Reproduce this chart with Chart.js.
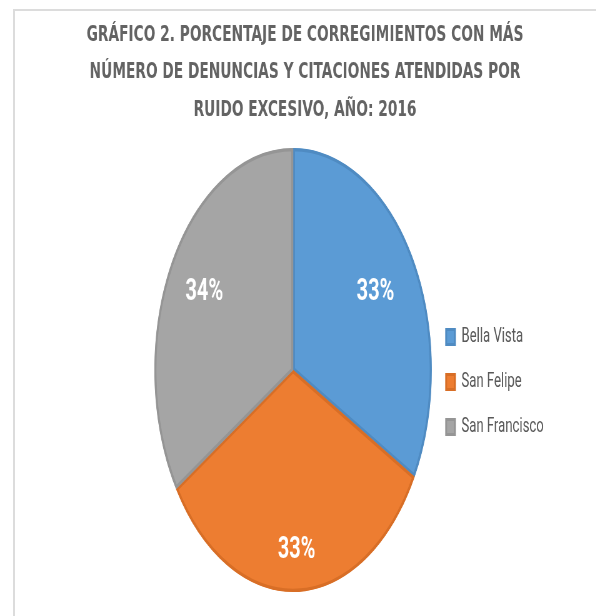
<!DOCTYPE html>
<html><head><meta charset="utf-8">
<script src="https://cdn.jsdelivr.net/npm/chart.js@4.4.1/dist/chart.umd.min.js"></script>
<style>
html,body{margin:0;padding:0;background:#fff;overflow:hidden;width:596px;height:616px;}
#frame{position:absolute;left:13px;top:9px;width:600px;height:620px;border-left:2px solid #dcdcdc;border-top:2px solid #dcdcdc;}
#wrap{position:absolute;left:0;top:0;width:954px;height:616px;transform:scaleX(0.625);transform-origin:0 0;}
</style></head><body>
<div id="frame"></div>
<div id="wrap"><canvas id="c" width="954" height="616"></canvas></div>
<script>
const titleLines = [
  'GRÁFICO 2. PORCENTAJE DE CORREGIMIENTOS CON MÁS',
  'NÚMERO DE DENUNCIAS Y CITACIONES ATENDIDAS POR',
  'RUIDO EXCESIVO, AÑO: 2016'
];
const categories = ['Bella Vista', 'San Felipe', 'San Francisco'];
const percentages = [33, 33, 34];
const sliceColors = ['#5B9BD5', '#ED7D31', '#A5A5A5'];
const edgeColors = ['#4F8BC2', '#D86E26', '#959595'];
const labelRadius = [0.69, 0.81, 0.73];

const pctLabels = {
  id: 'pctLabels',
  afterDatasetsDraw(chart) {
    const ctx = chart.ctx;
    const meta = chart.getDatasetMeta(0);
    ctx.save();
    ctx.fillStyle = '#ffffff';
    ctx.font = 'bold 32px Roboto';
    ctx.textAlign = 'center';
    ctx.textBaseline = 'middle';
    meta.data.forEach((arc, i) => {
      const p = arc.getProps(['x', 'y', 'startAngle', 'endAngle', 'outerRadius'], true);
      const a = (p.startAngle + p.endAngle) / 2;
      const r = p.outerRadius * labelRadius[i];
      ctx.fillText(percentages[i] + '%', p.x + Math.cos(a) * r, p.y + Math.sin(a) * r);
    });
    ctx.restore();
  }
};

const centerTitle = {
  id: 'centerTitle',
  afterLayout(chart) {
    const t = chart.titleBlock;
    if (t) { t.left = 22; t.right = chart.width; t.width = chart.width - 22; }
  }
};

new Chart(document.getElementById('c'), {
  type: 'pie',
  data: {
    labels: categories,
    datasets: [{
      data: percentages,
      backgroundColor: sliceColors,
      borderColor: edgeColors,
      borderWidth: 3,
      borderAlign: 'inner'
    }]
  },
  options: {
    responsive: false,
    animation: false,
    radius: 222,
    layout: { padding: { left: 248, right: 74, top: 0, bottom: 24 } },
    plugins: {
      tooltip: { enabled: false },
      title: {
        display: true,
        text: titleLines,
        color: '#636363',
        font: { family: 'DejaVu Sans', size: 22, weight: 'bold', lineHeight: '37.5px' },
        padding: { top: 16.5, bottom: 19 }
      },
      legend: {
        position: 'right',
        title: { display: true, text: '', padding: { top: 172, bottom: 0 }, font: { size: 1, lineHeight: 0 } },
        labels: {
          color: '#595959',
          font: { family: 'Roboto', size: 21 },
          boxWidth: 14,
          boxHeight: 15,
          padding: 24
        }
      }
    }
  },
  plugins: [pctLabels, centerTitle]
});
</script>
</body></html>
